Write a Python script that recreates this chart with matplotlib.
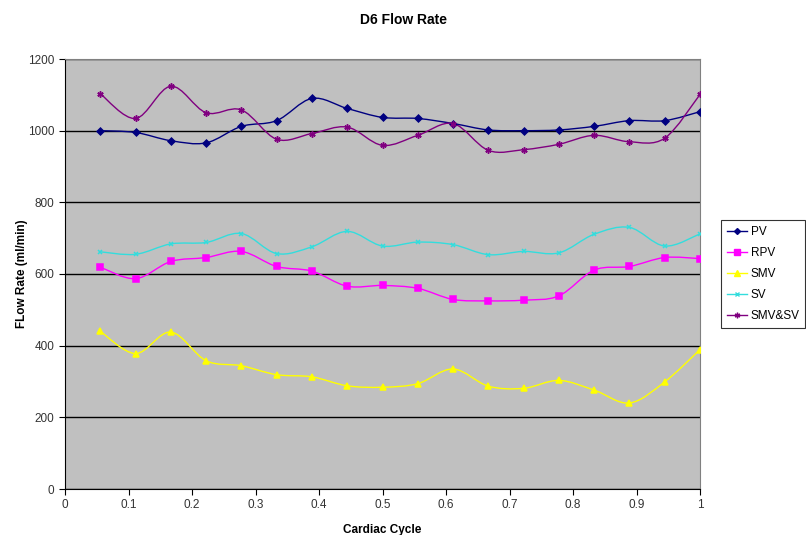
import numpy as np
import matplotlib
matplotlib.use('Agg')
from matplotlib import pyplot as plt
from matplotlib.path import Path
from matplotlib.patches import PathPatch
from matplotlib.lines import Line2D

plt.rcParams['font.family'] = ['Liberation Sans', 'DejaVu Sans']

# cardiac cycle positions (18 samples)
cycle = [k / 18 for k in range(1, 19)]

pv = [1000, 995, 972, 966, 1012, 1028, 1090, 1062, 1037,
      1034, 1020, 1002, 1000, 1002, 1012, 1028, 1028, 1053]
rpv = [619, 587, 635, 646, 663, 621, 608, 566, 568,
       560, 529, 525, 527, 539, 611, 621, 646, 643]
smv = [440, 378, 438, 358, 344, 319, 313, 288, 284,
       294, 335, 287, 281, 303, 276, 240, 299, 389]
sv = [662, 655, 684, 688, 713, 657, 676, 719, 678,
      689, 682, 654, 663, 659, 711, 730, 678, 712]
smv_sv = [1103, 1034, 1124, 1050, 1058, 976, 992, 1010, 959,
          987, 1020, 945, 947, 962, 987, 969, 979, 1101]

series = [
    ('PV', pv, '#000080', 'D', 3.5),
    ('RPV', rpv, '#FF00FF', 's', 4.5),
    ('SMV', smv, '#FFFF00', '^', 5),
    ('SV', sv, '#33DDDD', 'x', 3.5),
    ('SMV&SV', smv_sv, '#800080', (6, 2, 0), 4.5),
]


def smooth_path(x, y):
    # excel style smoothed line: cubic bezier through every point
    pts = np.column_stack([x, y])
    n = len(pts)
    verts = [pts[0]]
    codes = [Path.MOVETO]
    for i in range(n - 1):
        p0 = pts[max(i - 1, 0)]
        p1 = pts[i]
        p2 = pts[i + 1]
        p3 = pts[min(i + 2, n - 1)]
        c1 = p1 + (p2 - p0) / 6
        c2 = p2 - (p3 - p1) / 6
        verts += [c1, c2, p2]
        codes += [Path.CURVE4] * 3
    return Path(verts, codes)


fig = plt.figure(figsize=(8.06, 5.35), dpi=100)
ax = fig.add_axes([65 / 806, 1 - 489 / 535, 635 / 806, 430 / 535])
ax.set_facecolor('#C0C0C0')

handles = []
for name, vals, col, mk, ms in series:
    patch = PathPatch(smooth_path(cycle, vals), facecolor='none',
                      edgecolor=col, lw=1.0, zorder=3)
    ax.add_patch(patch)
    ax.plot(cycle, vals, ls='none', marker=mk, ms=ms, color=col,
            mec=col, mew=1.1, zorder=4)
    handles.append(Line2D([], [], color=col, lw=1.0, marker=mk, ms=ms - 0.5,
                          mec=col, mew=1.0, label=name))

ax.set_xlim(0, 1)
ax.set_ylim(0, 1200)
ax.set_xticks(np.arange(0, 1.01, 0.1))
ax.set_xticklabels(['0', '0.1', '0.2', '0.3', '0.4', '0.5', '0.6',
                    '0.7', '0.8', '0.9', '1'])
ax.set_yticks(range(0, 1201, 200))
ax.yaxis.grid(True, color='black', lw=1)
ax.set_axisbelow(True)
ax.tick_params(labelsize=8.5, length=4, direction='out', colors='black')
ax.tick_params(labelcolor='#333333')
for s in ['top', 'right']:
    ax.spines[s].set_color('#808080')
for s in ['left', 'bottom']:
    ax.spines[s].set_color('black')

ax.set_xlabel('Cardiac Cycle', fontsize=8.5, fontweight='bold', labelpad=9)
ax.set_ylabel('FLow Rate (ml/min)', fontsize=8.5, fontweight='bold')
ax.yaxis.set_label_coords(-0.058, 0.5)
fig.suptitle('D6 Flow Rate', fontsize=10, fontweight='bold', y=0.975)

leg = fig.legend(handles=handles, loc='center left',
                 bbox_to_anchor=(721 / 806, 1 - 274 / 535), fontsize=8.5,
                 frameon=True, fancybox=False, edgecolor='black',
                 handlelength=1.7, borderpad=0.5, labelspacing=0.75,
                 handletextpad=0.3, borderaxespad=0)
leg.get_frame().set_linewidth(0.8)

fig.savefig('out.png', dpi=100)
